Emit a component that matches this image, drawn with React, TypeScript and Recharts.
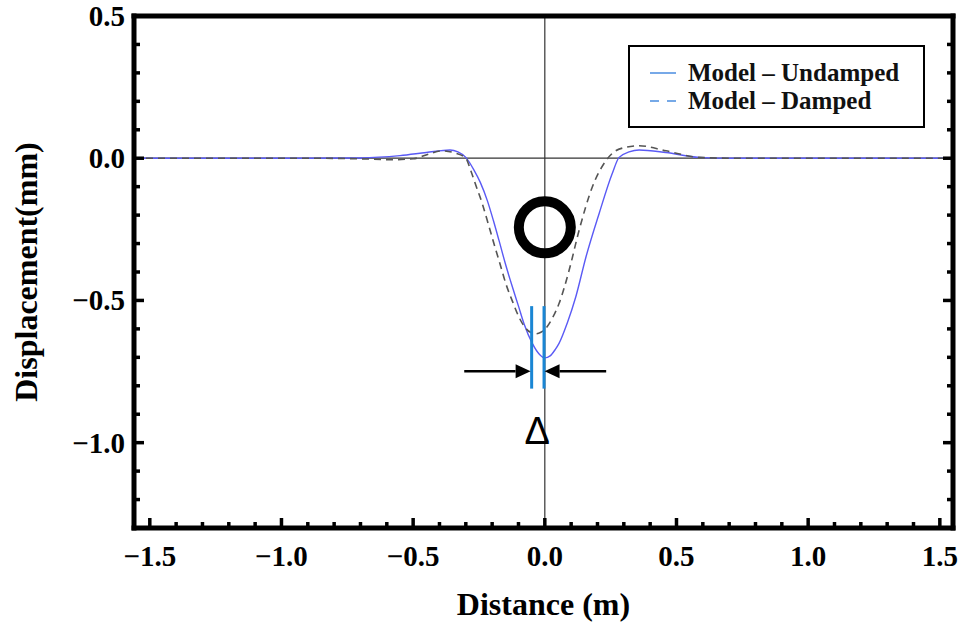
import { LineChart, Line, XAxis, YAxis, ReferenceLine, ReferenceDot, Legend } from 'recharts'

// Displacement profile, undamped vs damped model.
const UNDAMPED_NAME = 'Model \u2013 Undamped'
const DAMPED_NAME = 'Model \u2013 Damped'

const undampedX = [-1.56, -1.2, -0.9, -0.7, -0.55, -0.45, -0.36, -0.33, -0.3, -0.27, -0.245, -0.218, -0.195, -0.174, -0.15, -0.123, -0.1, -0.079, -0.047, -0.02, 0, 0.02, 0.04, 0.054, 0.085, 0.118, 0.156, 0.206, 0.256, 0.282, 0.32, 0.358, 0.46, 0.586, 0.7, 0.9, 1.2, 1.55]
const undampedY = [0, 0, 0, 0.001, 0.009, 0.02, 0.029, 0.022, 0.003, -0.04, -0.085, -0.15, -0.22, -0.289, -0.37, -0.453, -0.52, -0.582, -0.652, -0.69, -0.702, -0.695, -0.672, -0.651, -0.58, -0.486, -0.348, -0.195, -0.054, 0.003, 0.022, 0.029, 0.02, 0.003, 0, 0, 0, 0]

const dampedX = [-1.56, -1.2, -0.9, -0.7, -0.58, -0.5, -0.44, -0.39, -0.34, -0.3, -0.281, -0.26, -0.237, -0.215, -0.193, -0.17, -0.148, -0.122, -0.098, -0.075, -0.053, -0.034, -0.015, 0.004, 0.03, 0.054, 0.092, 0.13, 0.18, 0.232, 0.282, 0.358, 0.46, 0.586, 0.7, 0.9, 1.2, 1.55]
const dampedY = [0, 0, 0, -0.002, -0.005, -0.002, 0.015, 0.026, 0.018, 0, -0.044, -0.1, -0.161, -0.23, -0.301, -0.372, -0.441, -0.505, -0.559, -0.595, -0.613, -0.617, -0.612, -0.598, -0.56, -0.511, -0.395, -0.254, -0.102, -0.009, 0.032, 0.044, 0.026, 0.003, 0, 0, 0, 0]

const X_DOMAIN = [-1.56, 1.55]
const Y_DOMAIN = [-1.3, 0.5]

const xMajorTicks = [-1.5, -1, -0.5, 0, 0.5, 1, 1.5]
const yMajorTicks = [-1, -0.5, 0, 0.5]
const xTicks = Array.from({ length: 31 }, (_, i) => Math.round((-1.5 + i * 0.1) * 10) / 10)
const yTicks = Array.from({ length: 19 }, (_, i) => Math.round((-1.3 + i * 0.1) * 10) / 10)

// annotation anchors (data units)
const ringCenter = { x: 0, y: -0.243 }
const markerXs = [-0.05, -0.003]
const markerSpan = [-0.52, -0.81]
const arrowY = -0.749
const leftArrow = [-0.306, -0.054]
const rightArrow = [0.233, -0.001]
const deltaPos = { x: -0.029, y: -0.956 }

const undampedData = undampedX.map((x, i) => ({ x, y: undampedY[i] }))
const dampedData = dampedX.map((x, i) => ({ x, y: dampedY[i] }))

const SERIF = '"Liberation Serif", "Times New Roman", serif'
const TICK_FONT = { fontFamily: SERIF, fontWeight: 700, fontSize: 29, fill: '#000' }
const MAJOR_LEN = 10
const MINOR_LEN = 6
const TICK_W = 3.5
const LEGEND_LINE = '#4a8de0'
const LEGEND_ORDER = [UNDAMPED_NAME, DAMPED_NAME]

const isMajor = (v: number, majors: number[]) => majors.some(m => Math.abs(m - v) < 1e-6)
const fmt = (v: number) => v.toFixed(1).replace('-', '\u2212')

function BottomTick({ x, y, payload }: any) {
  const major = isMajor(payload.value, xMajorTicks)
  return (
    <g>
      <line x1={x} x2={x} y1={y} y2={y - (major ? MAJOR_LEN : MINOR_LEN)} stroke="#000" strokeWidth={TICK_W} />
      {major && <text x={x} y={y + 38} textAnchor="middle" style={TICK_FONT}>{fmt(payload.value)}</text>}
    </g>
  )
}

function TopTick({ x, y, payload }: any) {
  const major = isMajor(payload.value, xMajorTicks)
  return <line x1={x} x2={x} y1={y} y2={y + (major ? MAJOR_LEN : MINOR_LEN)} stroke="#000" strokeWidth={TICK_W} />
}

function LeftTick({ x, y, payload }: any) {
  const major = isMajor(payload.value, yMajorTicks)
  return (
    <g>
      <line x1={x} x2={x + (major ? MAJOR_LEN : MINOR_LEN)} y1={y} y2={y} stroke="#000" strokeWidth={TICK_W} />
      {major && <text x={x - 9} y={y + 10} textAnchor="end" style={TICK_FONT}>{fmt(payload.value)}</text>}
    </g>
  )
}

function RightTick({ x, y, payload }: any) {
  const major = isMajor(payload.value, yMajorTicks)
  return <line x1={x} x2={x - (major ? MAJOR_LEN : MINOR_LEN)} y1={y} y2={y} stroke="#000" strokeWidth={TICK_W} />
}

function Arrow(props: any) {
  const { x1, y1, x2, y2 } = props
  const dir = x2 > x1 ? 1 : -1
  const head = 15
  const half = 7
  return (
    <g>
      <line x1={x1} y1={y1} x2={x2 - dir * head} y2={y2} stroke="#000" strokeWidth={2.5} />
      <polygon points={`${x2},${y2} ${x2 - dir * head},${y2 - half} ${x2 - dir * head},${y2 + half}`} fill="#000" />
    </g>
  )
}

function LegendBox({ payload }: any) {
  const items = [...(payload ?? [])].sort(
    (a: any, b: any) => LEGEND_ORDER.indexOf(a.value) - LEGEND_ORDER.indexOf(b.value),
  )
  return (
    <div style={{
      width: 297, height: 83, border: '2px solid #000', boxSizing: 'border-box',
      background: '#fff', paddingTop: 12,
    }}>
      {items.map((e: any) => {
        const dashed = e.value === DAMPED_NAME
        return (
          <div key={e.value} style={{ display: 'flex', alignItems: 'center', height: 28, whiteSpace: 'nowrap' }}>
            <svg width={58} height={28} style={{ display: 'block', flexShrink: 0 }}>
              <line x1={20} x2={46} y1={14} y2={14} stroke={LEGEND_LINE} strokeWidth={1.5}
                strokeDasharray={dashed ? '9 8' : undefined} />
            </svg>
            <span style={{ fontFamily: SERIF, fontWeight: 700, fontSize: 25, lineHeight: '28px', color: '#111' }}>
              {e.value}
            </span>
          </div>
        )
      })}
    </div>
  )
}

export default function App() {
  return (
    <div style={{ position: 'absolute', left: 0, top: 0, background: '#fff' }}>
      <LineChart width={963} height={629} margin={{ top: 1, right: 0, bottom: 0, left: 0 }}>
        <XAxis
          dataKey="x"
          type="number"
          domain={X_DOMAIN}
          allowDataOverflow
          ticks={xTicks}
          interval={0}
          tickSize={0}
          tickMargin={0}
          tick={<BottomTick />}
          height={101}
          axisLine={{ stroke: '#000', strokeWidth: 5, strokeLinecap: 'square' }}
          label={{
            content: ({ viewBox }: any) => (
              <text x={(viewBox?.x ?? 134) + (viewBox?.width ?? 819) / 2} y={(viewBox?.y ?? 528) + 87}
                textAnchor="middle" style={{ fontFamily: SERIF, fontWeight: 700, fontSize: 32, fill: '#000' }}>
                Distance (m)
              </text>
            ),
          }}
        />
        <XAxis
          xAxisId="top"
          orientation="top"
          type="number"
          domain={X_DOMAIN}
          allowDataOverflow
          ticks={xTicks}
          interval={0}
          tickSize={0}
          tickMargin={0}
          tick={<TopTick />}
          height={15}
          axisLine={{ stroke: '#000', strokeWidth: 5, strokeLinecap: 'square' }}
        />
        <YAxis
          type="number"
          domain={Y_DOMAIN}
          allowDataOverflow
          ticks={yTicks}
          interval={0}
          tickSize={0}
          tickMargin={0}
          tick={<LeftTick />}
          width={134}
          axisLine={{ stroke: '#000', strokeWidth: 5, strokeLinecap: 'square' }}
          label={{
            content: ({ viewBox }: any) => {
              const cy = (viewBox?.y ?? 16) + (viewBox?.height ?? 512) / 2
              return (
                <text x={37} y={cy} transform={`rotate(-90, 37, ${cy})`} textAnchor="middle"
                  style={{ fontFamily: SERIF, fontWeight: 700, fontSize: 32, fill: '#000' }}>
                  Displacement(mm)
                </text>
              )
            },
          }}
        />
        <YAxis
          yAxisId="right"
          orientation="right"
          type="number"
          domain={Y_DOMAIN}
          allowDataOverflow
          ticks={yTicks}
          interval={0}
          tickSize={0}
          tickMargin={0}
          tick={<RightTick />}
          width={10}
          axisLine={{ stroke: '#000', strokeWidth: 5, strokeLinecap: 'square' }}
        />

        <ReferenceLine y={0} stroke="#333" strokeWidth={1.2} />
        <ReferenceLine x={0} stroke="#333" strokeWidth={1.2} />

        <Legend
          layout="vertical"
          align="center"
          verticalAlign="middle"
          wrapperStyle={{ top: 45, left: 628, width: 297, height: 83 }}
          content={<LegendBox />}
        />

        <Line
          data={undampedData}
          dataKey="y"
          name={UNDAMPED_NAME}
          type="monotone"
          stroke="#5a5af5"
          strokeWidth={1.4}
          dot={false}
          isAnimationActive={false}
        />
        <Line
          data={dampedData}
          dataKey="y"
          name={DAMPED_NAME}
          type="monotone"
          stroke="#555"
          strokeWidth={1.6}
          strokeDasharray="7 5"
          dot={false}
          isAnimationActive={false}
        />

        <ReferenceDot x={ringCenter.x} y={ringCenter.y} r={26} fill="none" stroke="#000" strokeWidth={10} />

        {markerXs.map(mx => (
          <ReferenceLine
            key={mx}
            segment={[{ x: mx, y: markerSpan[0] }, { x: mx, y: markerSpan[1] }]}
            stroke="#1a86d4"
            strokeWidth={3}
          />
        ))}
        <ReferenceLine segment={[{ x: leftArrow[0], y: arrowY }, { x: leftArrow[1], y: arrowY }]} shape={Arrow} />
        <ReferenceLine segment={[{ x: rightArrow[0], y: arrowY }, { x: rightArrow[1], y: arrowY }]} shape={Arrow} />
        <ReferenceDot
          x={deltaPos.x}
          y={deltaPos.y}
          r={1}
          shape={(p: any) => (
            <text x={p.cx} y={p.cy + 14} textAnchor="middle"
              style={{ fontFamily: '"Liberation Sans", Arial, sans-serif', fontSize: 38, fill: '#000' }}>
              {'\u0394'}
            </text>
          )}
        />
      </LineChart>
    </div>
  )
}
